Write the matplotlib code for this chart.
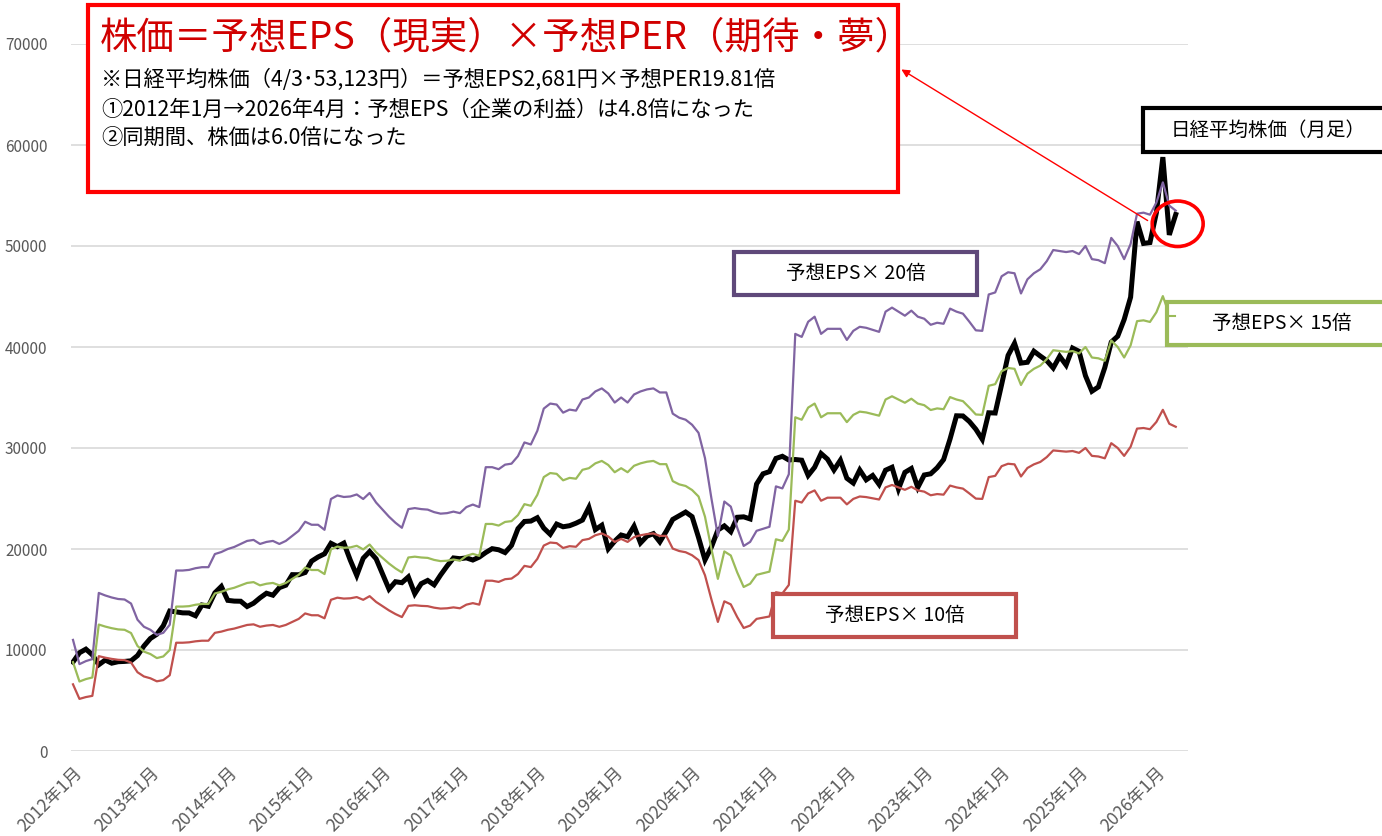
import matplotlib
matplotlib.use('Agg')
import matplotlib.pyplot as plt
from matplotlib.patches import Rectangle, Ellipse
import numpy as np
import pandas as pd

plt.rcParams['font.family'] = ['Noto Sans CJK JP', 'DejaVu Sans']

# monthly categories 2012-01 .. 2026-04
months = pd.date_range('2012-01-01', periods=172, freq='MS')

# Nikkei 225 monthly close
nikkei = [
    8803, 9723, 10084, 9521, 8543, 9007, 8695, 8840, 8870, 8928, 9446, 10395,
    11139, 11559, 12398, 13861, 13775, 13677, 13668, 13389, 14456, 14328, 15662, 16291,
    14915, 14841, 14828, 14304, 14632, 15162, 15621, 15425, 16174, 16414, 17460, 17451,
    17674, 18798, 19207, 19520, 20563, 20236, 20585, 18890, 17388, 19083, 19747, 19034,
    17518, 16027, 16759, 16666, 17235, 15576, 16569, 16887, 16450, 17425, 18308, 19114,
    19041, 19119, 18909, 19197, 19651, 20033, 19925, 19646, 20356, 22012, 22725, 22765,
    23098, 22068, 21454, 22468, 22202, 22305, 22554, 22865, 24120, 21920, 22351, 20015,
    20773, 21385, 21206, 22259, 20601, 21276, 21522, 20704, 21756, 22927, 23294, 23657,
    23205, 21143, 18917, 20194, 21878, 22288, 21710, 23140, 23185, 22977, 26434, 27444,
    27663, 28966, 29179, 28813, 28860, 28792, 27284, 28090, 29453, 28893, 27822, 28792,
    27002, 26527, 27821, 26848, 27280, 26393, 27802, 28092, 25937, 27587, 27968, 26095,
    27327, 27446, 28041, 28856, 30888, 33189, 33172, 32619, 31858, 30859, 33487, 33464,
    36287, 39166, 40369, 38406, 38488, 39583, 39102, 38648, 37920, 39081, 38208, 39895,
    39572, 37156, 35618, 36045, 37965, 40487, 41070, 42718, 44933, 52411, 50254, 50339,
    53300, 58800, 51100, 53123,
]

# line labelled "予想EPS×20倍"
eps_x20 = [
    11000, 8600, 8900, 9100, 15650, 15400, 15200, 15050, 15000, 14600, 13000, 12300,
    12000, 11500, 11700, 12500, 17870, 17870, 17930, 18100, 18200, 18200, 19500, 19700,
    20000, 20200, 20500, 20800, 20900, 20500, 20700, 20800, 20500, 20800, 21300, 21800,
    22700, 22400, 22400, 21900, 24950, 25300, 25150, 25200, 25400, 24950, 25550, 24600,
    23900, 23200, 22600, 22100, 23950, 24050, 23950, 23900, 23650, 23500, 23550, 23700,
    23550, 24150, 24400, 24150, 28100, 28100, 27900, 28350, 28450, 29200, 30550, 30350,
    31700, 33900, 34400, 34300, 33500, 33800, 33700, 34800, 35000, 35600, 35900, 35400,
    34500, 35000, 34500, 35300, 35600, 35800, 35900, 35500, 35500, 33400, 33000, 32800,
    32300, 31500, 29000, 25000, 21300, 24700, 24200, 22100, 20300, 20700, 21800, 22000,
    22200, 26200, 26000, 27400, 41300, 41000, 42500, 43000, 41300, 41800, 41800, 41800,
    40700, 41600, 42000, 41900, 41700, 41500, 43500, 43900, 43500, 43100, 43600, 43000,
    42800, 42200, 42400, 42300, 43800, 43500, 43300, 42500, 41650, 41600, 45200, 45400,
    47000, 47400, 47300, 45300, 46700, 47300, 47700, 48500, 49600, 49500, 49400, 49500,
    49200, 50000, 48700, 48600, 48300, 50800, 50000, 48700, 50200, 53200, 53300, 53100,
    54300, 56300, 54000, 53500,
]

# line labelled "予想EPS×15倍"
eps_x15 = [
    8800, 6880, 7120, 7280, 12520, 12320, 12160, 12040, 12000, 11680, 10400, 9840,
    9600, 9200, 9360, 10000, 14300, 14300, 14340, 14480, 14560, 14560, 15600, 15760,
    16000, 16160, 16400, 16640, 16720, 16400, 16560, 16640, 16400, 16640, 17040, 17440,
    18160, 17920, 17920, 17520, 19960, 20240, 20120, 20160, 20320, 19960, 20440, 19680,
    19120, 18560, 18080, 17680, 19160, 19240, 19160, 19120, 18920, 18800, 18840, 18960,
    18840, 19320, 19520, 19320, 22480, 22480, 22320, 22680, 22760, 23360, 24440, 24280,
    25360, 27120, 27520, 27440, 26800, 27040, 26960, 27840, 28000, 28480, 28720, 28320,
    27600, 28000, 27600, 28240, 28480, 28640, 28720, 28400, 28400, 26720, 26400, 26240,
    25840, 25200, 23200, 20000, 17040, 19760, 19360, 17680, 16240, 16560, 17440, 17600,
    17760, 20960, 20800, 21920, 33040, 32800, 34000, 34400, 33040, 33440, 33440, 33440,
    32560, 33280, 33600, 33520, 33360, 33200, 34800, 35120, 34800, 34480, 34880, 34400,
    34240, 33760, 33920, 33840, 35040, 34800, 34640, 34000, 33320, 33280, 36160, 36320,
    37600, 37920, 37840, 36240, 37360, 37840, 38160, 38800, 39680, 39600, 39520, 39600,
    39360, 40000, 38960, 38880, 38640, 40640, 40000, 38960, 40160, 42560, 42640, 42480,
    43440, 45040, 43200, 42800,
]

# line labelled "予想EPS×10倍"
eps_x10 = [
    6600, 5160, 5340, 5460, 9390, 9240, 9120, 9030, 9000, 8760, 7800, 7380,
    7200, 6900, 7020, 7500, 10720, 10720, 10760, 10860, 10920, 10920, 11700, 11820,
    12000, 12120, 12300, 12480, 12540, 12300, 12420, 12480, 12300, 12480, 12780, 13080,
    13620, 13440, 13440, 13140, 14970, 15180, 15090, 15120, 15240, 14970, 15330, 14760,
    14340, 13920, 13560, 13260, 14370, 14430, 14370, 14340, 14190, 14100, 14130, 14220,
    14130, 14490, 14640, 14490, 16860, 16860, 16740, 17010, 17070, 17520, 18330, 18210,
    19020, 20340, 20640, 20580, 20100, 20280, 20220, 20880, 21000, 21360, 21540, 21240,
    20700, 21000, 20700, 21180, 21360, 21480, 21540, 21300, 21300, 20040, 19800, 19680,
    19380, 18900, 17400, 15000, 12780, 14820, 14520, 13260, 12180, 12420, 13080, 13200,
    13320, 15720, 15600, 16440, 24780, 24600, 25500, 25800, 24780, 25080, 25080, 25080,
    24420, 24960, 25200, 25140, 25020, 24900, 26100, 26340, 26100, 25860, 26160, 25800,
    25680, 25320, 25440, 25380, 26280, 26100, 25980, 25500, 24990, 24960, 27120, 27240,
    28200, 28440, 28380, 27180, 28020, 28380, 28620, 29100, 29760, 29700, 29640, 29700,
    29520, 30000, 29220, 29160, 28980, 30480, 30000, 29220, 30120, 31920, 31980, 31860,
    32580, 33780, 32400, 32100,
]

yticks = [0, 10000, 20000, 30000, 40000, 50000, 60000, 70000]

W, H = 1382, 836
fig = plt.figure(figsize=(W / 100, H / 100), dpi=100)
ax = fig.add_axes([71 / W, 1 - 751 / H, (1188 - 71) / W, (751 - 44) / H])

x = np.arange(len(months))
ax.plot(x, nikkei, color='black', lw=3.6, zorder=3, solid_joinstyle='miter')
ax.plot(x, eps_x20, color='#8064A2', lw=1.6, zorder=4)
ax.plot(x, eps_x15, color='#9BBB59', lw=1.6, zorder=4)
ax.plot(x, eps_x10, color='#C0504D', lw=1.6, zorder=4)

ax.set_xlim(-0.31, 172.9)
ax.set_ylim(0, 70000)
ax.set_yticks(yticks)
ax.set_yticklabels([str(v) for v in yticks])
jan = [i for i, m in enumerate(months) if m.month == 1]
ax.set_xticks(jan)
ax.set_xticklabels([f'{months[i].year}年1月' for i in jan], rotation=45,
                   ha='right', va='top', rotation_mode='anchor')
ax.yaxis.grid(True, color='#D9D9D9', lw=1.2)
ax.set_axisbelow(True)
for s in ax.spines.values():
    s.set_visible(False)
ax.tick_params(axis='both', length=0, colors='#595959')
ax.tick_params(axis='y', pad=17, labelsize=11)
ax.tick_params(axis='x', pad=9, labelsize=12.5)

# circle round the latest value
ax.add_patch(Ellipse((x[-1] + 0.3, 52200), 7.9, 4500, fill=False,
                     edgecolor='#FF0000', lw=2.6, zorder=6, clip_on=False))

# overlay in pixel coordinates for boxes and notes
ov = fig.add_axes([0, 0, 1, 1], zorder=10)
ov.set_xlim(0, W)
ov.set_ylim(H, 0)
ov.axis('off')
ov.patch.set_alpha(0)

ov.add_patch(Rectangle((88, 5), 810, 187, facecolor='white', edgecolor='#FF0000', lw=3))
ov.text(100, 38, '株価＝予想EPS（現実）×予想PER（期待・夢）', color='#D00000',
        fontsize=27, va='center', ha='left')
notes = ['※日経平均株価（4/3･53,123円）＝予想EPS2,681円×予想PER19.81倍',
         '①2012年1月→2026年4月：予想EPS（企業の利益）は4.8倍になった',
         '②同期間、株価は6.0倍になった']
for ty, t in zip([80, 110, 138], notes):
    ov.text(101, ty, t, fontsize=15.3, va='center', ha='left', color='black')

ov.annotate('', xy=(899, 68), xytext=(1150, 222),
            arrowprops=dict(arrowstyle='-|>', color='#FF0000', lw=1, mutation_scale=12))

def label_box(x0, y0, w, h, text, ec, lw=3):
    ov.add_patch(Rectangle((x0, y0), w, h, facecolor='white', edgecolor=ec, lw=lw))
    ov.text(x0 + w / 2, y0 + h / 2, text, fontsize=14, ha='center', va='center',
            color='black')

label_box(1143, 108, 250, 44, '日経平均株価（月足）', 'black')
label_box(734, 252, 243, 43, '予想EPS× 20倍', '#5F497A')
label_box(1167, 302, 230, 43, '予想EPS× 15倍', '#9BBB59')
ov.plot([1167, 1175], [316, 316], color='#9BBB59', lw=1.5)
label_box(773, 594, 243, 43, '予想EPS× 10倍', '#C0504D')

fig.savefig('out.png', dpi=100)
